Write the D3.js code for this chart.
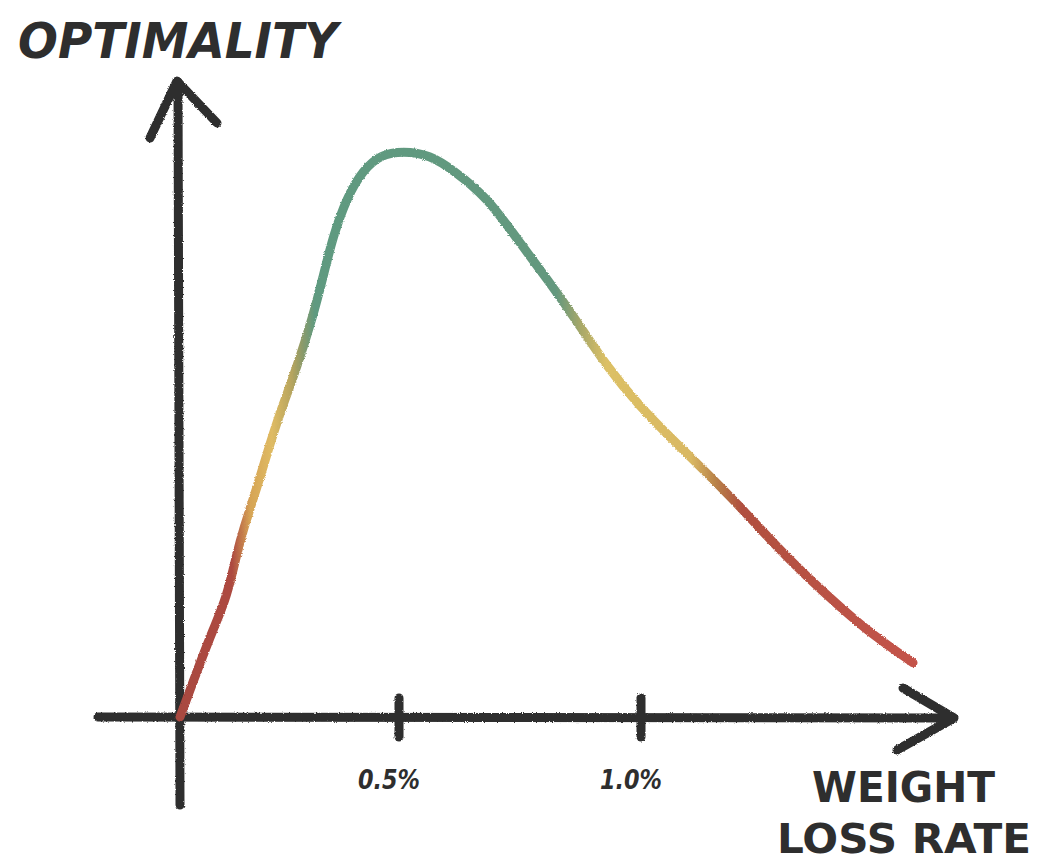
<!DOCTYPE html>
<html>
<head>
<meta charset="utf-8">
<script src="https://cdn.jsdelivr.net/npm/d3@7"></script>
<style>
  body { margin: 0; background: #fff; }
  text { fill: #2e2e2e; font-family: "DejaVu Sans", sans-serif; }
</style>
</head>
<body>
<div id="chart"></div>
<script>
// weight loss rate (% per week) and optimality
const rates = [0.000, 0.046, 0.075, 0.107, 0.130, 0.144, 0.176, 0.199, 0.228, 0.267,
  0.304, 0.326, 0.349, 0.381, 0.418, 0.457, 0.508, 0.564, 0.612, 0.682,
  0.744, 0.812, 0.860, 0.930, 0.998, 1.066, 1.136, 1.205, 1.273, 1.343,
  1.411, 1.479, 1.562]
const optimality = [0.000, 0.096, 0.154, 0.212, 0.290, 0.331, 0.407, 0.467, 0.538, 0.619,
  0.710, 0.777, 0.850, 0.920, 0.968, 0.995, 1.002, 0.995, 0.968, 0.920,
  0.846, 0.768, 0.710, 0.619, 0.549, 0.490, 0.432, 0.372, 0.308, 0.248,
  0.195, 0.145, 0.096]
const tickValues = [0.5, 1.0]
const tickLabels = ['0.5%', '1.0%']
const yTitle = 'OPTIMALITY'
const xTitle = ['WEIGHT', 'LOSS RATE']

// colour bands along the rate axis (red -> yellow -> green -> yellow -> red)
const bandRates = [0.000, 0.119, 0.160, 0.210, 0.256, 0.279, 0.308, 0.825, 0.876, 0.928, 1.103, 1.155, 1.207, 1.568]
const bandColors = ['#a9483f', '#ad4a40', '#d6a455', '#dfbb63', '#b5a45e', '#8c9a6a', '#5f9a80',
  '#64987e', '#a8a868', '#dcc065', '#d9b862', '#b88148', '#b0503f', '#c4534a']

const data = rates.map((r, i) => ({ r, v: optimality[i] }))

let w = 1038, h = 864

let svg = d3.select('#chart').append('svg')
  .attr('width', w)
  .attr('height', h)

// hand drawn look: rough edges on every stroke
let defs = svg.append('defs')
let rough = defs.append('filter').attr('id', 'rough')
  .attr('x', '-5%').attr('y', '-5%').attr('width', '110%').attr('height', '110%')
rough.append('feTurbulence').attr('type', 'fractalNoise')
  .attr('baseFrequency', 0.9).attr('numOctaves', 2).attr('result', 'noise')
rough.append('feDisplacementMap').attr('in', 'SourceGraphic').attr('in2', 'noise')
  .attr('scale', 2.6).attr('xChannelSelector', 'R').attr('yChannelSelector', 'G')

// hand drawn ticks are not evenly spaced, so the scale is piecewise
let x = d3.scaleLinear()
  .domain([0, 0.5, 1.0])
  .range([180, 399, 641])

let y = d3.scaleLinear()
  .domain([0, 1])
  .range([717, 152])

let ink = '#2e2e2e'
let axes = svg.append('g')
  .attr('filter', 'url(#rough)')
  .attr('stroke', ink)
  .attr('stroke-width', 9)
  .attr('stroke-linecap', 'round')
  .attr('stroke-linejoin', 'round')
  .attr('fill', 'none')

// y axis with arrow
axes.append('path').attr('d', `M${x(0)},${y(0) + 88} L${x(0) - 2},${y(0) - 635}`)
axes.append('path').attr('d', `M${x(0) - 30},${y(0) - 579} L${x(0) - 3},${y(0) - 636} L${x(0) + 37},${y(0) - 594}`)

// x axis with arrow
axes.append('path').attr('d', `M${x(0) - 82},${y(0)} L${x(0) + 773},${y(0) + 1}`)
axes.append('path').attr('d', `M${x(0) + 723},${y(0) - 29} L${x(0) + 774},${y(0) + 1} L${x(0) + 717},${y(0) + 33}`)

// ticks
axes.selectAll('.tick')
  .data(tickValues)
  .enter()
  .append('path')
  .attr('class', 'tick')
  .attr('d', d => `M${x(d)},${y(0) - 19} L${x(d)},${y(0) + 20}`)

svg.selectAll('.tick-label')
  .data(tickValues)
  .enter()
  .append('text')
  .attr('class', 'tick-label')
  .attr('x', d => x(d) - 10)
  .attr('y', y(0) + 72)
  .attr('text-anchor', 'middle')
  .attr('textLength', 62)
  .attr('lengthAdjust', 'spacingAndGlyphs')
  .style('font-size', '27px')
  .style('font-style', 'oblique')
  .style('font-weight', 'bold')
  .text((d, i) => tickLabels[i])

// gradient along the curve
let gx0 = x(bandRates[0]), gx1 = x(bandRates[bandRates.length - 1])
let grad = defs.append('linearGradient')
  .attr('id', 'curveGrad')
  .attr('gradientUnits', 'userSpaceOnUse')
  .attr('x1', gx0).attr('x2', gx1)
  .attr('y1', 0).attr('y2', 0)
grad.selectAll('stop')
  .data(bandRates)
  .enter()
  .append('stop')
  .attr('offset', d => (x(d) - gx0) / (gx1 - gx0))
  .attr('stop-color', (d, i) => bandColors[i])

let line = d3.line()
  .x(d => x(d.r))
  .y(d => y(d.v))
  .curve(d3.curveBasis)

svg.append('path')
  .datum(data)
  .attr('d', line)
  .attr('fill', 'none')
  .attr('stroke', 'url(#curveGrad)')
  .attr('stroke-width', 9)
  .attr('stroke-linecap', 'round')
  .attr('filter', 'url(#rough)')

// titles
svg.append('text')
  .attr('x', 18)
  .attr('y', 58)
  .attr('textLength', 320)
  .attr('lengthAdjust', 'spacingAndGlyphs')
  .style('font-size', '49px')
  .style('font-weight', 'bold')
  .style('font-style', 'oblique')
  .text(yTitle)

svg.append('text')
  .attr('x', 812)
  .attr('y', 802)
  .attr('textLength', 183)
  .attr('lengthAdjust', 'spacingAndGlyphs')
  .style('font-size', '42px')
  .style('font-weight', 'bold')
  .text(xTitle[0])

svg.append('text')
  .attr('x', 777)
  .attr('y', 853)
  .attr('textLength', 254)
  .attr('lengthAdjust', 'spacingAndGlyphs')
  .style('font-size', '40px')
  .style('font-weight', 'bold')
  .text(xTitle[1])
</script>
</body>
</html>
